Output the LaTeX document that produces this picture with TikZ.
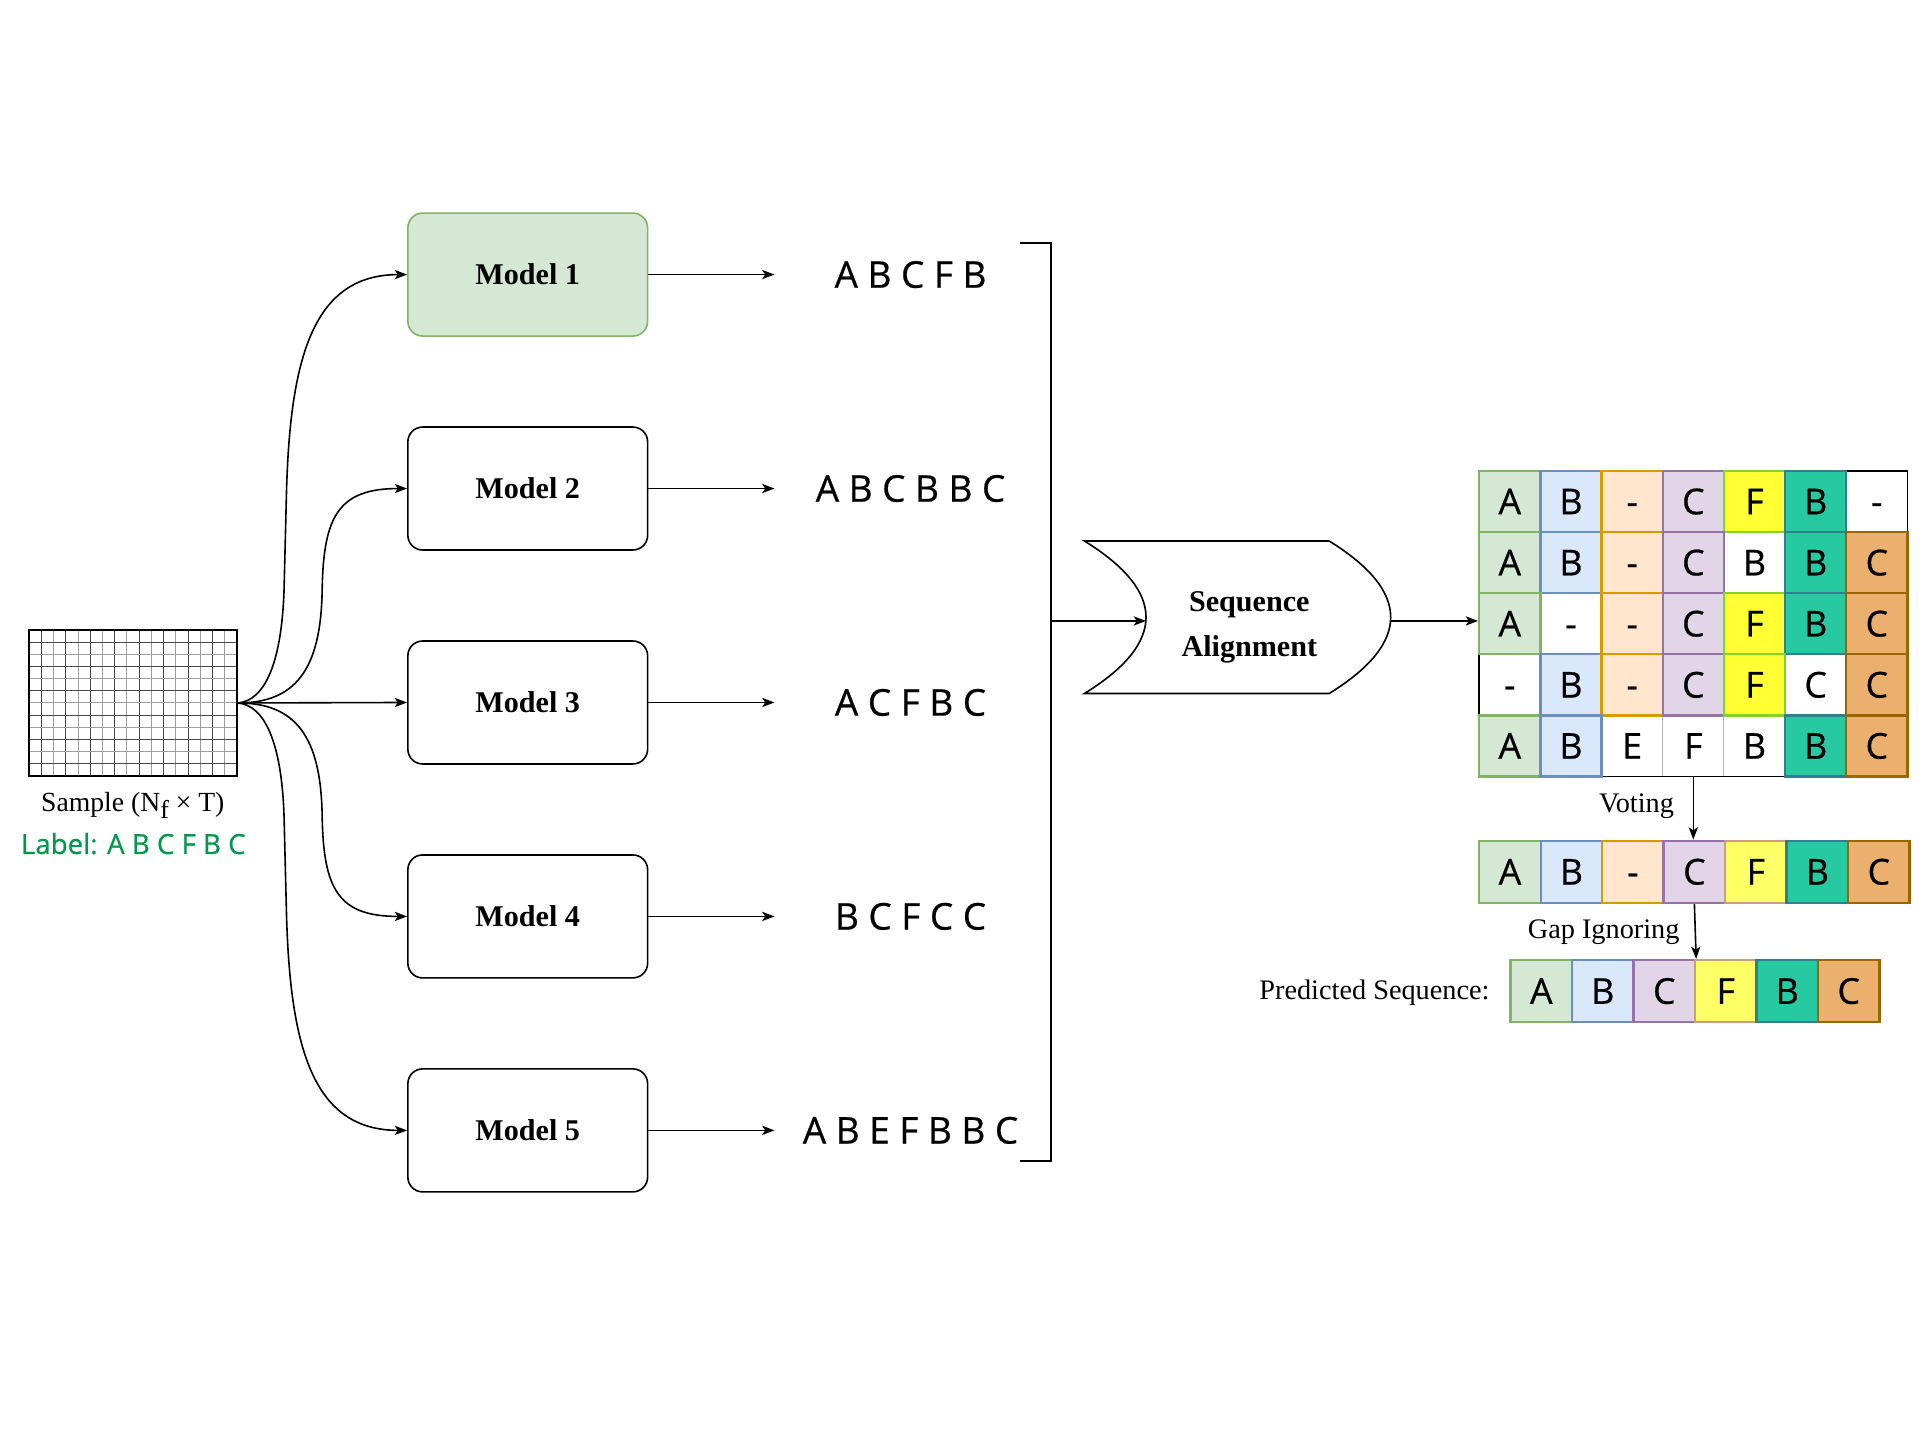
\documentclass[tikz,border=0pt]{standalone}
\usepackage{fontspec}
\setmainfont{Liberation Serif}
\newfontfamily\osans[FakeBold=0.6]{Open Sans}
\usetikzlibrary{arrows.meta}
\definecolor{gfill}{HTML}{D5E8D4}\definecolor{gline}{HTML}{82B366}
\definecolor{bfill}{HTML}{DAE8FC}\definecolor{bline}{HTML}{6C8EBF}
\definecolor{ofill}{HTML}{FFE6CC}\definecolor{oline}{HTML}{D79B00}
\definecolor{pfill}{HTML}{E1D5E7}\definecolor{pline}{HTML}{9673A6}
\definecolor{yfill}{HTML}{FFFF33}\definecolor{yline}{HTML}{80D42A}
\definecolor{yyfill}{HTML}{FFFF66}\definecolor{yyline}{HTML}{CC9C84}
\definecolor{tfill}{HTML}{26C9A0}\definecolor{tline}{HTML}{327E8E}
\definecolor{kfill}{HTML}{EBAF6E}\definecolor{kline}{HTML}{996600}
\definecolor{labgreen}{RGB}{0,153,76}
\newcommand\gcell[4]{\node[#3] (c#1#2) at ({1203+(#2-0.5)*49.75},{383+(#1-0.5)*49.7}) {#4};}
\newcommand\vcell[3]{\node[#2] (v#1) at ({1203+(#1-0.5)*50},709) {#3};}
\newcommand\pcell[3]{\node[#2] (p#1) at ({1228.5+(#1-0.5)*50},806) {#3};}
\begin{document}
\begin{tikzpicture}[x=1pt,y=-1pt,line width=1.3pt,
  arr/.style={-{Stealth[length=10pt,width=7.5pt,inset=2.5pt]}},
  model/.style={draw, rounded corners=12pt, minimum width=195pt, minimum height=100pt,
    inner sep=0pt, font=\bfseries\fontsize{24.5}{24.5}\selectfont},
  seqtxt/.style={inner sep=0pt, minimum width=220pt, text height=21.4pt, text depth=0pt,
    font=\osans\fontsize{30}{30}\selectfont},
  lbl/.style={inner sep=0pt, font=\fontsize{23}{23}\selectfont},
  cell/.style={minimum width=49.75pt, minimum height=49.7pt, inner sep=0pt,
    text height=20.7pt, text depth=0pt, font=\osans\fontsize{29}{29}\selectfont, line width=1.9pt},
  gcol/.style={cell, fill=gfill, draw=gline},
  bcol/.style={cell, fill=bfill, draw=bline},
  ocol/.style={cell, fill=ofill, draw=oline},
  pcol/.style={cell, fill=pfill, draw=pline},
  ycol/.style={cell, fill=yfill, draw=yline},
  yycol/.style={cell, fill=yyfill, draw=yyline},
  tcol/.style={cell, fill=tfill, draw=tline},
  kcol/.style={cell, fill=kfill, draw=kline},
  wcol/.style={cell, fill=white, draw=black!30, line width=0.8pt},
  vcol/.style={minimum width=50pt, minimum height=50.5pt},
]
\useasboundingbox (0,0) rectangle (1568,1176);

% sample grid
\foreach \i in {1,...,16}{
  \ifodd\i \def\gc{black!72}\else\def\gc{black!38}\fi
  \draw[line width=0.8pt, color=\gc] ({23.7+\i*9.941},512.35) -- ++(0,118.7);}
\foreach \j in {1,...,11}{
  \ifodd\j \def\gc{black!72}\else\def\gc{black!38}\fi
  \draw[line width=0.8pt, color=\gc] (23.7,{512.35+\j*9.89}) -- ++(169,0);}
\node[draw, line width=1.4pt, minimum width=169pt, minimum height=118.7pt, inner sep=0pt] (sample) at (108.2,571.7) {};
\node[anchor=base, inner sep=0pt, font=\fontsize{22.5}{22.5}\selectfont] (samplelbl) at (108,660) {Sample (N\raisebox{-6pt}{\fontsize{21}{21}\selectfont f} × T)};
\node[anchor=base, inner sep=0pt, text=labgreen, font=\osans\fontsize{22.5}{22.5}\selectfont] (label) at (108.4,694.5) {Label: A B C F B C};

% models
\node[model, fill=gfill, draw=gline] (m1) at (429.2,223.3) {Model 1};
\node[model] (m2) at (429.2,397.3) {Model 2};
\node[model] (m3) at (429.2,571.3) {Model 3};
\node[model] (m4) at (429.2,745.3) {Model 4};
\node[model] (m5) at (429.2,919.3) {Model 5};

% curves from sample
\draw[arr] (sample.east) .. controls (215,570) and (229,540) .. (231,480) -- (233,400)
  .. controls (236,290) and (255,223.3) .. (m1.west);
\draw[arr] (sample.east) .. controls (240,571.7) and (261,545) .. (262,480)
  .. controls (263,420) and (275,397.3) .. (m2.west);
\draw[arr] (sample.east) -- (m3.west);
\draw[arr] (sample.east) .. controls (240,571.7) and (261,598.4) .. (262,663.4)
  .. controls (263,723.4) and (275,745.3) .. (m4.west);
\draw[arr] (sample.east) .. controls (215,573.4) and (229,603.4) .. (231,663.4) -- (233,743.4)
  .. controls (236,853.4) and (255,919.3) .. (m5.west);

% sequences
\node[seqtxt] (s1) at (740.5,223.3) {A B C F B};
\node[seqtxt] (s2) at (740.5,397.3) {A B C B B C};
\node[seqtxt] (s3) at (740.5,571.3) {A C F B C};
\node[seqtxt] (s4) at (740.5,745.3) {B C F C C};
\node[seqtxt] (s5) at (740.5,919.3) {A B E F B B C};
\foreach \k in {1,...,5}{\draw[arr] (m\k) -- (s\k);}

% bracket
\coordinate (btl) at (829.5,198);
\coordinate (bt) at (855,198);
\coordinate (bb) at (855,944.5);
\coordinate (bbl) at (829.5,944.5);
\draw[line width=1.6pt] (btl) -- (bt) -- (bb) -- (bbl);
\coordinate (bm) at (855,505);

% sequence alignment shape
\draw[line width=1.3pt, fill=white] (882,440) -- (1081,440)
  .. controls (1147.7,481.3) and (1147.7,522.7) .. (1081,564) -- (882,564)
  .. controls (948.7,522.7) and (948.7,481.3) .. cycle;
\coordinate (sain) at (932,505);
\coordinate (saout) at (1131,505);
\node[align=center, inner sep=0pt, font=\bfseries\fontsize{24.5}{37}\selectfont] (sa) at (1016,510) {Sequence\\Alignment};
\draw[arr] (bm) -- (sain);

% alignment grid: white cells first
\gcell{1}{7}{wcol}{-}
\gcell{2}{5}{wcol}{B}
\gcell{3}{2}{wcol}{-}
\gcell{4}{1}{wcol}{-}
\gcell{4}{6}{wcol}{C}
\gcell{5}{3}{wcol}{E}
\gcell{5}{4}{wcol}{F}
\gcell{5}{5}{wcol}{B}
\draw[line width=1.2pt] (1203,383) rectangle (1551.25,631.5);
\gcell{1}{1}{gcol}{A}\gcell{1}{2}{bcol}{B}\gcell{1}{3}{ocol}{-}\gcell{1}{4}{pcol}{C}\gcell{1}{5}{ycol}{F}\gcell{1}{6}{tcol}{B}
\gcell{2}{1}{gcol}{A}\gcell{2}{2}{bcol}{B}\gcell{2}{3}{ocol}{-}\gcell{2}{4}{pcol}{C}\gcell{2}{6}{tcol}{B}\gcell{2}{7}{kcol}{C}
\gcell{3}{1}{gcol}{A}\gcell{3}{3}{ocol}{-}\gcell{3}{4}{pcol}{C}\gcell{3}{5}{ycol}{F}\gcell{3}{6}{tcol}{B}\gcell{3}{7}{kcol}{C}
\gcell{4}{2}{bcol}{B}\gcell{4}{3}{ocol}{-}\gcell{4}{4}{pcol}{C}\gcell{4}{5}{ycol}{F}\gcell{4}{7}{kcol}{C}
\gcell{5}{1}{gcol}{A}\gcell{5}{2}{bcol}{B}\gcell{5}{6}{tcol}{B}\gcell{5}{7}{kcol}{C}

\draw[arr] (saout) -- (saout -| c31.west);

% voted row
\vcell{1}{gcol,vcol}{A}\vcell{2}{bcol,vcol}{B}\vcell{3}{ocol,vcol}{-}\vcell{4}{pcol,vcol}{C}
\vcell{5}{yycol,vcol}{F}\vcell{6}{tcol,vcol}{B}\vcell{7}{kcol,vcol}{C}
% predicted row
\pcell{1}{gcol,vcol}{A}\pcell{2}{bcol,vcol}{B}\pcell{3}{pcol,vcol}{C}
\pcell{4}{yycol,vcol}{F}\pcell{5}{tcol,vcol}{B}\pcell{6}{kcol,vcol}{C}

\draw[arr] (c54.south) -- (c54.south |- v4.north);
\draw[arr] (v4.south) -- (p3.north east);

\node[lbl, anchor=base east] (voting) at (1362,661) {Voting};
\node[lbl, anchor=base east] (gapign) at (1366.5,763) {Gap Ignoring};
\node[lbl, anchor=base east] (predlbl) at (1212,812.7) {Predicted Sequence:};
\end{tikzpicture}
\end{document}
